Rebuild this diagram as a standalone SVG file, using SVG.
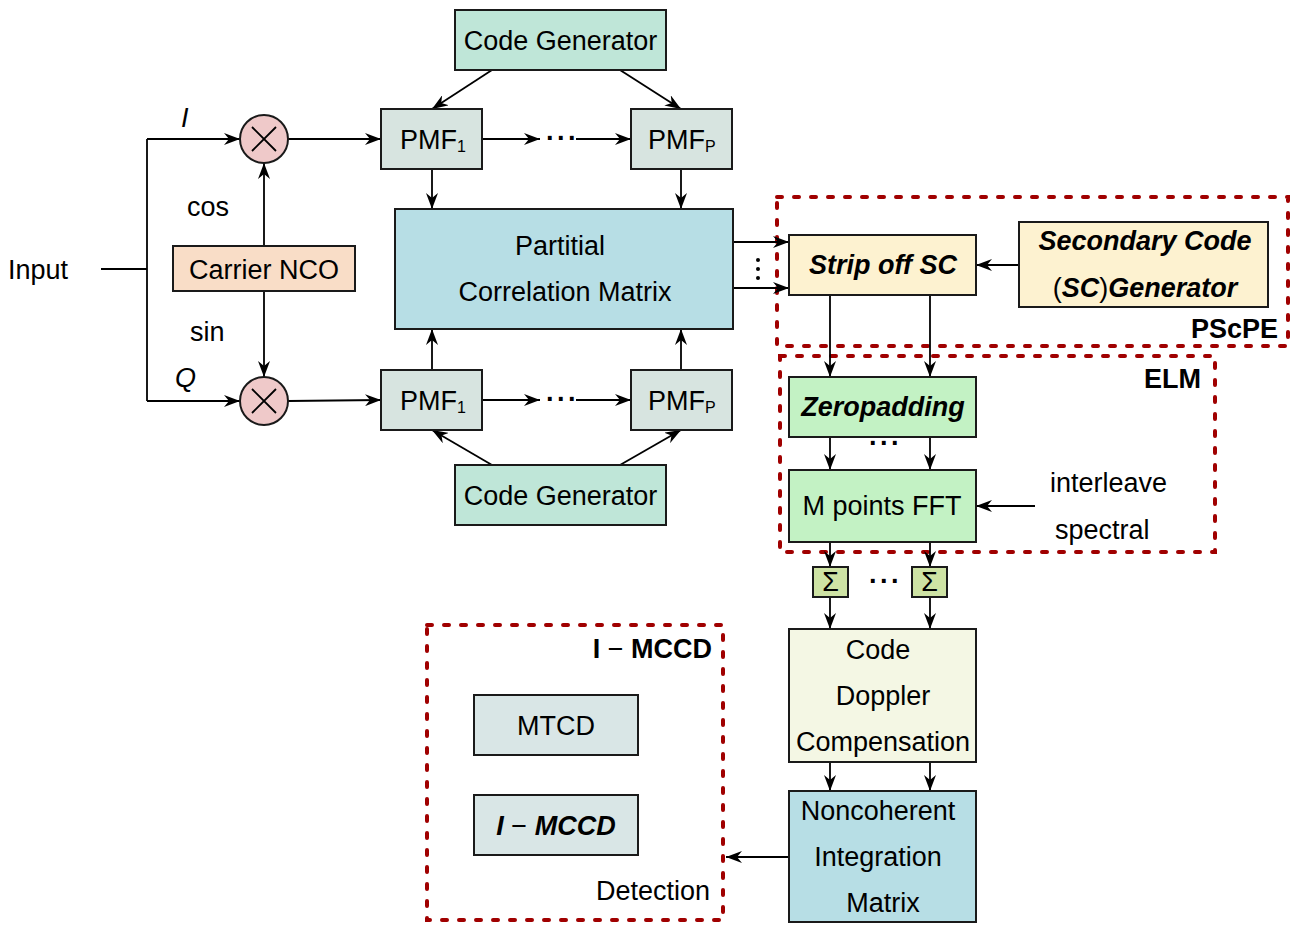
<svg xmlns="http://www.w3.org/2000/svg" width="1295" height="925" viewBox="0 0 1295 925">
  <defs>
    <marker id="arr" viewBox="0 0 16 12" refX="16" refY="6" markerWidth="16" markerHeight="12" orient="auto" markerUnits="userSpaceOnUse">
      <path d="M0,0 L16,6 L0,12 L5,6 z" fill="#000"/>
    </marker>
    <style>
      text { font-family: "Liberation Sans", Arial, sans-serif; font-size: 27px; fill: #000; }
      .box { stroke: #1a1a1a; stroke-width: 2; }
      .gen { fill: #bfe6d8; }
      .pmf { fill: #d7e4e0; }
      .mat { fill: #b7dee5; }
      .nco { fill: #f9ddc7; }
      .mix { fill: #efc9c9; }
      .sc { fill: #fdf2d0; }
      .elm { fill: #c3f2c4; }
      .sum { fill: #cee3a4; }
      .dop { fill: #f4f7e4; }
      .det { fill: #d9e6e6; }
      .wire { fill: none; stroke: #000; stroke-width: 1.8; }
      .group { fill: none; stroke: #a00000; stroke-width: 4; stroke-dasharray: 5 12; stroke-linecap: round; }
      .bi { font-weight: bold; font-style: italic; }
      .b { font-weight: bold; }
      .mid { text-anchor: middle; }
      .dots { font-weight: bold; letter-spacing: 2px; }
    </style>
  </defs>

  <rect width="1295" height="925" fill="#fff"/>

  <!-- dashed functional groups -->
  <g id="groups">
    <rect class="group" x="777" y="197" width="511" height="149"/>
    <rect class="group" x="780" y="356" width="435" height="196"/>
    <rect class="group" x="427" y="625" width="296" height="295"/>
  </g>

  <!-- connectors -->
  <g id="connectors">
    <path class="wire" d="M101,269 H147"/>
    <path class="wire" d="M147,139 V401"/>
    <path class="wire" d="M147,139 H240" marker-end="url(#arr)"/>
    <path class="wire" d="M147,401 H240" marker-end="url(#arr)"/>
    <path class="wire" d="M264,246 V163" marker-end="url(#arr)"/>
    <path class="wire" d="M264,291 V377" marker-end="url(#arr)"/>
    <path class="wire" d="M288,139 H381" marker-end="url(#arr)"/>
    <path class="wire" d="M288,401 L381,400" marker-end="url(#arr)"/>
    <!-- PMF chains -->
    <path class="wire" d="M482,139 H540" marker-end="url(#arr)"/>
    <path class="wire" d="M576,139 H631" marker-end="url(#arr)"/>
    <path class="wire" d="M482,400 H540" marker-end="url(#arr)"/>
    <path class="wire" d="M576,400 H631" marker-end="url(#arr)"/>
    <!-- code generators to PMFs -->
    <path class="wire" d="M492,70 L432,109" marker-end="url(#arr)"/>
    <path class="wire" d="M620,70 L681,109" marker-end="url(#arr)"/>
    <path class="wire" d="M492,465 L432,430" marker-end="url(#arr)"/>
    <path class="wire" d="M620,465 L681,430" marker-end="url(#arr)"/>
    <!-- PMFs to correlation matrix -->
    <path class="wire" d="M432,169 V209" marker-end="url(#arr)"/>
    <path class="wire" d="M681,169 V209" marker-end="url(#arr)"/>
    <path class="wire" d="M432,370 V329" marker-end="url(#arr)"/>
    <path class="wire" d="M681,370 V329" marker-end="url(#arr)"/>
    <!-- matrix to strip off SC -->
    <path class="wire" d="M733,242 H789" marker-end="url(#arr)"/>
    <path class="wire" d="M733,288 H789" marker-end="url(#arr)"/>
    <circle cx="758" cy="260" r="2" fill="#000"/>
    <circle cx="758" cy="269" r="2" fill="#000"/>
    <circle cx="758" cy="278" r="2" fill="#000"/>
    <path class="wire" d="M1019,265 H976" marker-end="url(#arr)"/>
    <!-- vertical processing chain -->
    <path class="wire" d="M830,295 V377" marker-end="url(#arr)"/>
    <path class="wire" d="M930,295 V377" marker-end="url(#arr)"/>
    <path class="wire" d="M830,437 V470" marker-end="url(#arr)"/>
    <path class="wire" d="M930,437 V470" marker-end="url(#arr)"/>
    <path class="wire" d="M1035,506 H976" marker-end="url(#arr)"/>
    <path class="wire" d="M830,542 V567" marker-end="url(#arr)"/>
    <path class="wire" d="M930,542 V567" marker-end="url(#arr)"/>
    <path class="wire" d="M830,597 V629" marker-end="url(#arr)"/>
    <path class="wire" d="M930,597 V629" marker-end="url(#arr)"/>
    <path class="wire" d="M830,762 V791" marker-end="url(#arr)"/>
    <path class="wire" d="M930,762 V791" marker-end="url(#arr)"/>
    <path class="wire" d="M789,857 H726" marker-end="url(#arr)"/>
  </g>

  <!-- free labels -->
  <g id="labels">
    <text x="8" y="279">Input</text>
    <text x="181" y="127" font-style="italic">I</text>
    <text x="175" y="387" font-style="italic">Q</text>
    <text x="187" y="216">cos</text>
    <text x="190" y="341">sin</text>
    <text class="dots" x="546" y="147">···</text>
    <text class="dots" x="546" y="408">···</text>
    <text class="dots" x="869" y="452">···</text>
    <text class="dots" x="869" y="590">···</text>
    <text x="1050" y="492">interleave</text>
    <text x="1055" y="539">spectral</text>
    <text class="b" x="1278" y="338" text-anchor="end">PScPE</text>
    <text class="b" x="1201" y="388" text-anchor="end">ELM</text>
    <text class="b" x="712" y="658" text-anchor="end">I <tspan font-weight="normal">−</tspan> MCCD</text>
    <text x="710" y="900" text-anchor="end">Detection</text>
  </g>

  <g id="code-gen-top">
    <rect class="box gen" x="455" y="10" width="211" height="60"/>
    <text class="mid" x="560.5" y="50">Code Generator</text>
  </g>
  <g id="code-gen-bottom">
    <rect class="box gen" x="455" y="465" width="211" height="60"/>
    <text class="mid" x="560.5" y="505">Code Generator</text>
  </g>

  <g id="mixer-i">
    <circle class="box mix" cx="264" cy="139" r="24"/>
    <path d="M252,127 L276,151 M276,127 L252,151" stroke="#000" stroke-width="1.8"/>
  </g>
  <g id="mixer-q">
    <circle class="box mix" cx="264" cy="401" r="24"/>
    <path d="M252,389 L276,413 M276,389 L252,413" stroke="#000" stroke-width="1.8"/>
  </g>

  <g id="carrier-nco">
    <rect class="box nco" x="173" y="246" width="182" height="45"/>
    <text class="mid" x="264" y="279">Carrier NCO</text>
  </g>

  <g id="pmf1-i">
    <rect class="box pmf" x="381" y="109" width="101" height="60"/>
    <text x="400" y="149">PMF<tspan font-size="16" dy="3">1</tspan></text>
  </g>
  <g id="pmfp-i">
    <rect class="box pmf" x="631" y="109" width="101" height="60"/>
    <text x="648" y="149">PMF<tspan font-size="16" dy="3">P</tspan></text>
  </g>
  <g id="pmf1-q">
    <rect class="box pmf" x="381" y="370" width="101" height="60"/>
    <text x="400" y="410">PMF<tspan font-size="16" dy="3">1</tspan></text>
  </g>
  <g id="pmfp-q">
    <rect class="box pmf" x="631" y="370" width="101" height="60"/>
    <text x="648" y="410">PMF<tspan font-size="16" dy="3">P</tspan></text>
  </g>

  <g id="correlation-matrix">
    <rect class="box mat" x="395" y="209" width="338" height="120"/>
    <text class="mid" x="560" y="255">Partitial</text>
    <text class="mid" x="565" y="301">Correlation Matrix</text>
  </g>

  <g id="strip-off-sc">
    <rect class="box sc" x="789" y="235" width="187" height="60"/>
    <text class="bi mid" x="883" y="274">Strip off SC</text>
  </g>
  <g id="sc-generator">
    <rect class="box sc" x="1019" y="222" width="249" height="85"/>
    <text class="bi mid" x="1145" y="250">Secondary Code</text>
    <text class="mid" x="1145" y="297">(<tspan class="bi">SC</tspan>)<tspan class="bi">Generator</tspan></text>
  </g>

  <g id="zeropadding">
    <rect class="box elm" x="789" y="377" width="187" height="60"/>
    <text class="bi mid" x="883" y="416">Zeropadding</text>
  </g>
  <g id="fft">
    <rect class="box elm" x="789" y="470" width="187" height="72"/>
    <text class="mid" x="882" y="515">M points FFT</text>
  </g>

  <g id="sum-1">
    <rect class="box sum" x="813" y="567" width="35" height="30"/>
    <text class="mid" x="830.5" y="591" font-size="24">Σ</text>
  </g>
  <g id="sum-m">
    <rect class="box sum" x="912" y="567" width="35" height="30"/>
    <text class="mid" x="929.5" y="591" font-size="24">Σ</text>
  </g>

  <g id="code-doppler">
    <rect class="box dop" x="789" y="629" width="187" height="133"/>
    <text class="mid" x="878" y="659">Code</text>
    <text class="mid" x="883" y="705">Doppler</text>
    <text class="mid" x="883" y="751">Compensation</text>
  </g>

  <g id="noncoherent">
    <rect class="box mat" x="789" y="791" width="187" height="131"/>
    <text class="mid" x="878" y="820">Noncoherent</text>
    <text class="mid" x="878" y="866">Integration</text>
    <text class="mid" x="883" y="912">Matrix</text>
  </g>

  <g id="mtcd">
    <rect class="box det" x="474" y="695" width="164" height="60"/>
    <text class="mid" x="556" y="735">MTCD</text>
  </g>
  <g id="i-mccd">
    <rect class="box det" x="474" y="795" width="164" height="60"/>
    <text class="bi mid" x="556" y="835">I <tspan font-weight="normal" font-style="normal">−</tspan> MCCD</text>
  </g>
</svg>
